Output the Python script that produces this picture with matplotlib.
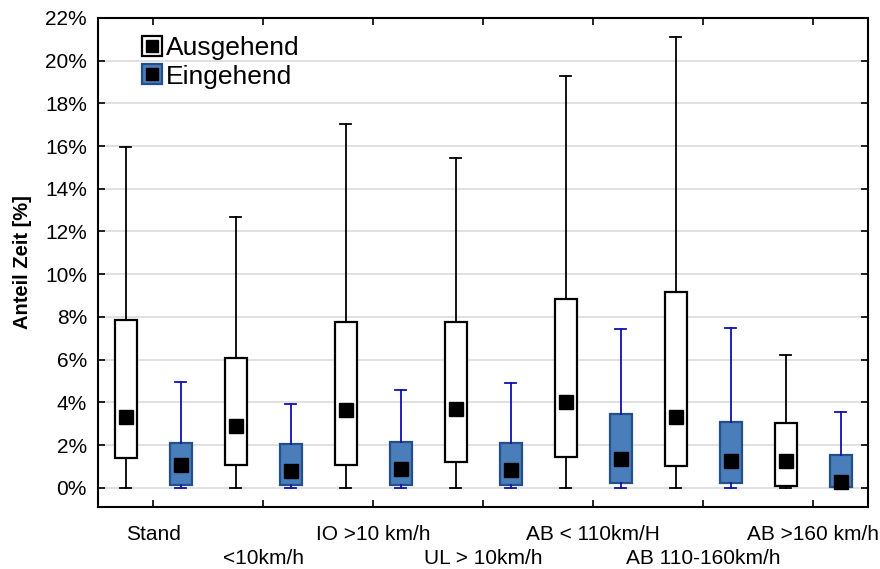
import matplotlib
matplotlib.use("Agg")
import matplotlib.pyplot as plt
from matplotlib.lines import Line2D
from matplotlib.legend_handler import HandlerTuple

plt.rcParams['font.family'] = ['Liberation Sans', 'DejaVu Sans']

categories = ["Stand", "<10km/h", "IO >10 km/h", "UL > 10km/h",
              "AB < 110km/H", "AB 110-160km/h", "AB >160 km/h"]

# Ausgehend (outgoing): min, q1, median, q3, max  [% of time]
out_min = [0, 0, 0, 0, 0, 0, 0]
out_q1 = [1.38, 1.06, 1.06, 1.20, 1.45, 1.03, 0.08]
out_med = [3.33, 2.89, 3.64, 3.69, 4.03, 3.31, 1.24]
out_q3 = [7.85, 6.09, 7.75, 7.76, 8.84, 9.18, 3.05]
out_max = [15.97, 12.67, 17.03, 15.43, 19.28, 21.10, 6.22]

# Eingehend (incoming)
in_min = [0, 0, 0, 0, 0, 0, 0]
in_q1 = [0.12, 0.15, 0.15, 0.15, 0.20, 0.20, 0.05]
in_med = [1.06, 0.77, 0.88, 0.83, 1.33, 1.24, 0.25]
in_q3 = [2.11, 2.05, 2.12, 2.10, 3.45, 3.09, 1.53]
in_max = [4.94, 3.90, 4.58, 4.90, 7.43, 7.48, 3.53]

yticks = list(range(0, 23, 2))

fig = plt.figure(figsize=(8.8, 5.69), dpi=100)
ax = fig.add_axes([0.1114, 0.109, 0.8750, 0.8596])

groups = list(range(len(categories)))
pos_out = [g - 0.25 for g in groups]
pos_in = [g + 0.25 for g in groups]


def stats(mins, q1s, meds, q3s, maxs):
    return [dict(whislo=a, q1=b, med=c, q3=d, whishi=e, fliers=[])
            for a, b, c, d, e in zip(mins, q1s, meds, q3s, maxs)]


blue_face = '#4a7ebb'
blue_edge = '#24508a'
whisk_blue = '#0f0fb4'

ax.bxp(stats(out_min, out_q1, out_med, out_q3, out_max), positions=pos_out,
       widths=0.2, patch_artist=True, showfliers=False, manage_ticks=False,
       boxprops=dict(facecolor='white', edgecolor='black', linewidth=1.6),
       whiskerprops=dict(color='black', linewidth=1.3),
       capprops=dict(color='black', linewidth=1.3),
       medianprops=dict(linewidth=0), capwidths=0.1, zorder=3)

ax.bxp(stats(in_min, in_q1, in_med, in_q3, in_max), positions=pos_in,
       widths=0.2, patch_artist=True, showfliers=False, manage_ticks=False,
       boxprops=dict(facecolor=blue_face, edgecolor=blue_edge, linewidth=1.6),
       whiskerprops=dict(color=whisk_blue, linewidth=1.3),
       capprops=dict(color=whisk_blue, linewidth=1.3),
       medianprops=dict(linewidth=0), capwidths=0.1, zorder=3)

# median markers
ax.plot(pos_out, out_med, 's', color='black', markersize=9.5, zorder=5)
ax.plot(pos_in, in_med, 's', color='black', markersize=9.5, zorder=5)

ax.set_xlim(-0.5, len(categories) - 0.5)
ax.set_ylim(-0.9, 22)
ax.set_yticks(yticks)
ax.set_yticklabels([f"{v}%" for v in yticks])
ax.yaxis.grid(True, color='#dcdcdc', linewidth=1.2, zorder=0)
ax.set_axisbelow(True)

ax.set_xticks(groups)
ax.set_xticklabels(categories, fontsize=15)
ax.tick_params(axis='both', direction='in', length=5, width=1.2,
               top=True, right=True, labelsize=15)
ax.tick_params(axis='y', pad=8)
# staggered category labels: alternate rows
for i, tick in enumerate(ax.xaxis.get_major_ticks()):
    tick.set_pad(13 if i % 2 == 0 else 30)
for s in ax.spines.values():
    s.set_linewidth(1.5)

ax.set_ylabel("Anteil Zeit [%]", fontsize=14.5, fontweight='bold', labelpad=9)

h_out = (Line2D([], [], marker='s', linestyle='none', markersize=14,
                markerfacecolor='white', markeredgecolor='black', markeredgewidth=1.6),
         Line2D([], [], marker='s', linestyle='none', markersize=9, color='black'))
h_in = (Line2D([], [], marker='s', linestyle='none', markersize=14,
               markerfacecolor=blue_face, markeredgecolor=blue_edge, markeredgewidth=1.6),
        Line2D([], [], marker='s', linestyle='none', markersize=9, color='black'))
ax.legend([h_out, h_in], ["Ausgehend", "Eingehend"],
          handler_map={tuple: HandlerTuple(ndivide=1)},
          loc='upper left', bbox_to_anchor=(0.033, 1.0), frameon=False,
          fontsize=19, handlelength=0.8, handletextpad=0.1,
          labelspacing=0.16, borderaxespad=0.3)

fig.savefig("out.png", dpi=100)
